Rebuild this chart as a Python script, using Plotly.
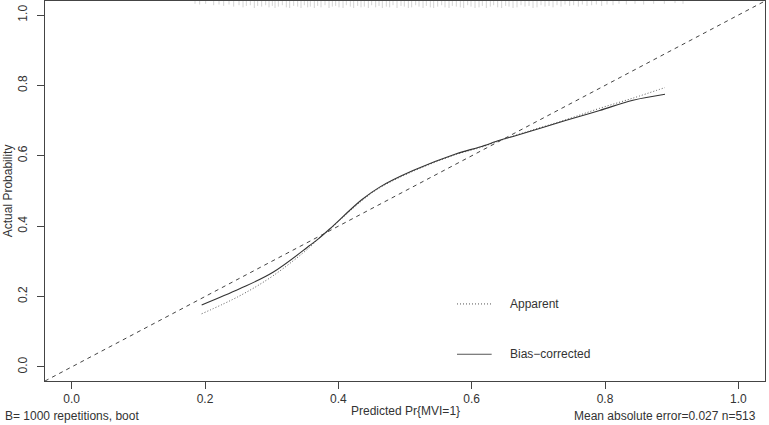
"""
Calibration curve (rms::calibrate style) — apparent vs bias-corrected.
"""
import plotly.graph_objects as go

# ── Data ──────────────────────────────────────────────────────────────────────
pred_bias = [0.195, 0.252, 0.302, 0.357, 0.370, 0.387, 0.435, 0.462, 0.512,
             0.577, 0.612, 0.642, 0.667, 0.742, 0.792, 0.842, 0.890]
obs_bias = [0.176, 0.222, 0.269, 0.345, 0.364, 0.392, 0.475, 0.511, 0.558,
            0.606, 0.625, 0.644, 0.658, 0.701, 0.729, 0.758, 0.775]

pred_app = [0.195, 0.252, 0.302, 0.357, 0.370, 0.387, 0.435, 0.462, 0.512,
            0.577, 0.612, 0.642, 0.667, 0.742, 0.792, 0.842, 0.890]
obs_app = [0.151, 0.202, 0.259, 0.340, 0.364, 0.391, 0.472, 0.509, 0.556,
           0.604, 0.623, 0.643, 0.659, 0.703, 0.735, 0.764, 0.794]

# predicted probabilities shown as rug along the top, with relative tick length
rug_x = [0.185, 0.192, 0.201, 0.213, 0.221, 0.228, 0.236, 0.243, 0.251, 0.257,
         0.262, 0.268, 0.274, 0.279, 0.285, 0.291, 0.296, 0.301, 0.305, 0.310,
         0.316, 0.322, 0.327, 0.333, 0.339, 0.344, 0.349, 0.354, 0.358, 0.364,
         0.369, 0.374, 0.380, 0.386, 0.391, 0.396, 0.401, 0.407, 0.412, 0.418,
         0.423, 0.429, 0.434, 0.439, 0.445, 0.450, 0.456, 0.461, 0.466, 0.472,
         0.477, 0.482, 0.488, 0.494, 0.499, 0.505, 0.510, 0.516, 0.521, 0.527,
         0.532, 0.538, 0.543, 0.549, 0.555, 0.560, 0.566, 0.571, 0.577, 0.583,
         0.588, 0.594, 0.599, 0.605, 0.611, 0.616, 0.622, 0.628, 0.633, 0.639,
         0.645, 0.651, 0.656, 0.662, 0.668, 0.674, 0.680, 0.686, 0.692, 0.698,
         0.704, 0.710, 0.716, 0.722, 0.728, 0.734, 0.740, 0.747, 0.753, 0.760,
         0.766, 0.773, 0.780, 0.787, 0.795, 0.803, 0.812, 0.821, 0.832, 0.845,
         0.858, 0.873, 0.889, 0.905, 0.917]
rug_len = [0.4, 0.5, 0.4, 0.6, 0.5, 0.7, 0.5, 0.8, 0.6, 0.9, 0.7, 0.6, 1.0, 0.7,
           0.8, 0.6, 0.9, 0.7, 1.0, 0.8, 0.6, 0.9, 1.0, 0.7, 0.8, 1.0, 0.6, 0.9,
           0.8, 1.0, 0.7, 0.9, 0.6, 1.0, 0.8, 0.7, 0.9, 1.0, 0.6, 0.8, 1.0, 0.7,
           0.9, 0.8, 1.0, 0.6, 0.9, 0.7, 1.0, 0.8, 0.9, 0.6, 1.0, 0.7, 0.8, 1.0,
           0.9, 0.6, 0.8, 1.0, 0.7, 0.9, 1.0, 0.8, 0.6, 0.9, 1.0, 0.7, 0.8, 0.9,
           1.0, 0.6, 0.8, 1.0, 0.9, 0.7, 1.0, 0.8, 0.6, 0.9, 1.0, 0.7, 0.8, 1.0,
           0.9, 0.6, 0.8, 0.7, 1.0, 0.9, 0.6, 0.8, 0.7, 0.9, 0.6, 0.8, 0.5, 0.7,
           0.6, 0.8, 0.5, 0.7, 0.6, 0.5, 0.7, 0.5, 0.6, 0.4, 0.5, 0.4, 0.5, 0.4,
           0.4, 0.3, 0.4]

tick_vals = [0.0, 0.2, 0.4, 0.6, 0.8, 1.0]
tick_text = ["0.0", "0.2", "0.4", "0.6", "0.8", "1.0"]

AX_RANGE = [-0.04, 1.04]
FONT = "Liberation Sans, Arial, sans-serif"
INK = "#333333"

# ── Figure ───────────────────────────────────────────────────────────────────
fig = go.Figure()

# rug of predictions hanging from the top edge
rx, ry = [], []
for v, h in zip(rug_x, rug_len):
    rx += [v, v, None]
    ry += [AX_RANGE[1], AX_RANGE[1] - 0.02 * h, None]
fig.add_trace(go.Scatter(x=rx, y=ry, mode="lines",
                         line=dict(color="#d4d4d4", width=1),
                         hoverinfo="skip", showlegend=False))

# ideal line
fig.add_shape(type="line", xref="x", yref="y",
              x0=AX_RANGE[0], y0=AX_RANGE[0], x1=AX_RANGE[1], y1=AX_RANGE[1],
              line=dict(color="#444444", width=1, dash="4px,4px"))

fig.add_trace(go.Scatter(x=pred_app, y=obs_app, name="Apparent",
                         mode="lines", line_shape="spline",
                         line=dict(color="#555555", width=1, dash="1px,2px"),
                         showlegend=False))
fig.add_trace(go.Scatter(x=pred_bias, y=obs_bias, name="Bias-corrected",
                         mode="lines", line_shape="spline",
                         line=dict(color="#333333", width=1.1),
                         showlegend=False))

# in-plot key (R legend style)
key = [("Apparent", 0.179, "1px,2px"), ("Bias\u2212corrected", 0.036, "solid")]
for label, ky, dash in key:
    fig.add_shape(type="line", xref="x", yref="y",
                  x0=0.578, x1=0.630, y0=ky, y1=ky,
                  line=dict(color="#555555", width=1, dash=dash))
    fig.add_annotation(x=0.655, y=ky, xref="x", yref="y", text=label,
                       showarrow=False, xanchor="left", yanchor="middle",
                       font=dict(family=FONT, size=12, color=INK))

# axis titles and bottom notes
fig.add_annotation(x=0.5, y=-0.08, xref="paper", yref="paper",
                   text="Predicted Pr{MVI=1}", showarrow=False,
                   xanchor="center", yanchor="middle",
                   font=dict(family=FONT, size=12, color=INK))
fig.add_annotation(x=-0.051, y=0.5, xref="paper", yref="y",
                   text="Actual Probability", showarrow=False, textangle=-90,
                   xanchor="center", yanchor="middle",
                   font=dict(family=FONT, size=12, color=INK))
fig.add_annotation(x=-0.058, y=-0.092, xref="paper", yref="paper",
                   text="B= 1000 repetitions, boot", showarrow=False,
                   xanchor="left", yanchor="middle",
                   font=dict(family=FONT, size=12, color=INK))
fig.add_annotation(x=0.99, y=-0.092, xref="paper", yref="paper",
                   text="Mean absolute error=0.027 n=513", showarrow=False,
                   xanchor="right", yanchor="middle",
                   font=dict(family=FONT, size=12, color=INK))

axis_common = dict(
    range=AX_RANGE, showgrid=False, zeroline=False,
    showline=True, mirror=True, linecolor="#444444", linewidth=1,
    ticks="outside", ticklen=7, tickcolor="#444444",
    tickvals=tick_vals, ticktext=tick_text,
    tickfont=dict(family=FONT, size=12, color=INK),
    automargin=False,
)

fig.update_layout(
    width=769, height=425,
    margin=dict(l=45, r=4, t=1, b=44),
    plot_bgcolor="white", paper_bgcolor="white",
    xaxis=dict(**axis_common),
    yaxis=dict(**axis_common, tickangle=-90, ticklabelstandoff=5),
    showlegend=False,
)

fig.write_html(
    "out.html",
    config={"displayModeBar": False},
    post_script="document.body.style.margin='0';"
                "document.body.style.overflow='hidden';",
)
